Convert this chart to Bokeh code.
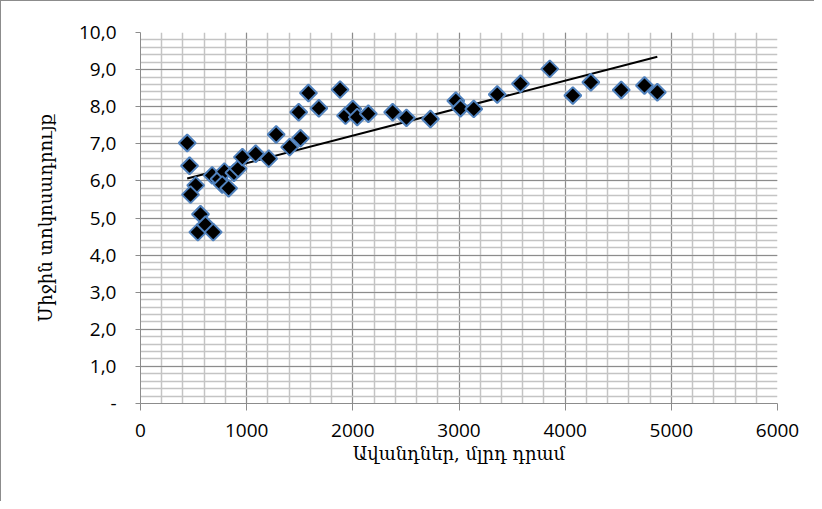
import numpy as np
from bokeh.plotting import figure
from bokeh.models import FixedTicker, Range1d, ColumnDataSource
from bokeh.embed import file_html
from bokeh.resources import INLINE

# ---- data ----
deposits = [440, 462, 520, 471, 565, 540, 612, 685,
            675, 740, 790, 770, 830, 880, 920, 960,
            1085, 1208, 1278, 1405, 1490, 1507, 1582, 1680,
            1880, 1931, 2000, 2041, 2146, 2375, 2505, 2731,
            2970, 3014, 3139, 3360, 3579, 3855, 4072, 4242,
            4528, 4747, 4868]
avg_rate = [7.02, 6.41, 5.88, 5.63, 5.10, 4.62, 4.82, 4.62,
            6.15, 6.05, 6.25, 5.90, 5.80, 6.22, 6.33, 6.64,
            6.73, 6.60, 7.25, 6.91, 7.85, 7.15, 8.37, 7.96,
            8.46, 7.76, 7.94, 7.72, 7.81, 7.85, 7.70, 7.67,
            8.16, 7.96, 7.94, 8.33, 8.62, 9.02, 8.30, 8.66,
            8.45, 8.57, 8.39]

x_ticks = [0, 1000, 2000, 3000, 4000, 5000, 6000]
x_minor = list(range(0, 6001, 200))
y_ticks = [0, 1, 2, 3, 4, 5, 6, 7, 8, 9, 10]
y_minor = [round(i * 0.2, 1) for i in range(0, 51)]
y_tick_labels = ["-", "1,0", "2,0", "3,0", "4,0", "5,0", "6,0", "7,0", "8,0", "9,0", "10,0"]

x_title = "Ավանդներ, մլրդ դրամ"
y_title = "Միջին տոկոսադրույք"

# linear trend (least squares) computed from the data
slope, intercept = np.polyfit(deposits, avg_rate, 1)
trend_x = [min(deposits), max(deposits)]
trend_y = [slope * v + intercept for v in trend_x]

p = figure(width=814, height=501, output_backend="svg", toolbar_location=None,
           x_range=Range1d(0, 6000), y_range=Range1d(0, 10),
           min_border_left=139, min_border_right=38, min_border_top=31, min_border_bottom=99)
p.styles = {"border-left": "1px solid #8c8c8c", "border-top": "1px solid #8c8c8c"}
p.outline_line_color = None
p.background_fill_color = "white"
p.border_fill_color = "white"

xt = FixedTicker(ticks=x_ticks, minor_ticks=x_minor)
yt = FixedTicker(ticks=y_ticks, minor_ticks=y_minor)
p.xaxis.ticker = xt
p.yaxis.ticker = yt
p.xgrid.ticker = xt
p.ygrid.ticker = yt

for g in (p.xgrid, p.ygrid):
    g.grid_line_color = "#8c8c8c"
    g.grid_line_width = 1
    g.minor_grid_line_color = "#c4c4c4"
    g.minor_grid_line_width = 1.5

p.yaxis.major_label_overrides = {t: l for t, l in zip(y_ticks, y_tick_labels)}

for ax in (p.xaxis, p.yaxis):
    ax.axis_line_color = "#8c8c8c"
    ax.major_tick_line_color = "#8c8c8c"
    ax.major_tick_in = 0
    ax.minor_tick_line_color = None
    ax.major_label_text_font = "Open Sans"
    ax.major_label_text_font_size = "19px"
    ax.major_label_text_color = "black"
    ax.axis_label_text_font = "DejaVu Serif"
    ax.axis_label_text_font_size = "18px"
    ax.axis_label_text_font_style = "normal"
    ax.axis_label_text_color = "black"

p.xaxis.major_tick_out = 7
p.yaxis.major_tick_out = 5
p.xaxis.major_label_standoff = 13
p.yaxis.major_label_standoff = 19
p.xaxis.axis_label = x_title
p.yaxis.axis_label = y_title
p.xaxis.axis_label_standoff = 3
p.yaxis.axis_label_standoff = 20

p.line(trend_x, trend_y, line_color="black", line_width=2)

src = ColumnDataSource(dict(x=deposits, y=avg_rate))
p.scatter("x", "y", source=src, marker="square", angle=np.pi / 4, size=12,
          fill_color="black", line_color="#4f81bd", line_width=2)

open("out.html", "w").write(file_html(p, INLINE))
